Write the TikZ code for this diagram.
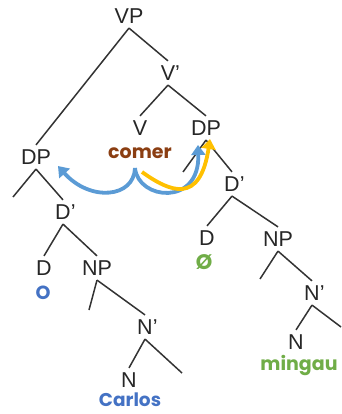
\documentclass[tikz,border=0pt]{standalone}
\usepackage{fontspec}
\setmainfont{Liberation Sans}
\newfontfamily\comicfont{Poppins}
\usetikzlibrary{arrows.meta}
\definecolor{arrblue}{HTML}{5B9BD5}
\definecolor{arryellow}{HTML}{FFC000}
\definecolor{wblue}{HTML}{4472C4}
\definecolor{wgreen}{HTML}{70AD47}
\definecolor{wbrown}{HTML}{8B3E12}
\begin{document}
\begin{tikzpicture}[x=1pt,y=-1pt,
  lab/.style={font=\fontsize{21.5}{24}\selectfont, inner sep=4.5pt, text=black!85},
  word/.style={font=\comicfont\bfseries\fontsize{19}{21}\selectfont, inner sep=1pt},
  br/.style={draw=black!80, line width=1.5pt},
  arr/.style={line width=3.8pt, -{Triangle[width=14pt,length=10pt]}}]
\useasboundingbox (0,0) rectangle (341,414);
% labels
\node[lab] (VP) at (129,16) {VP};
\node[lab] (Vb) at (168,73) {V\rlap{’}};
\node[lab] (V) at (140,128) {V};
\node[lab] (DPo) at (206,128) {DP};
\node[lab] (DPs) at (36,157) {DP};
\node[lab] (Dbr) at (232,184) {D\rlap{’}};
\node[lab] (Dbl) at (63,212) {D\rlap{’}};
\node[lab] (Dr) at (207,238) {D};
\node[lab] (NPr) at (278,239) {NP};
\node[lab] (Dl) at (44,268) {D};
\node[lab] (NPl) at (97,268) {NP};
\node[lab] (Nbr) at (312,293) {N\rlap{’}};
\node[lab] (Nbl) at (145,327) {N\rlap{’}};
\node[lab] (Nr) at (296,342) {N};
\node[lab] (Nl) at (129,380) {N};
% words
\node[word, text=wbrown] (comer) at (140,153) {comer};
\node[word, text=wblue] (o) at (43,293) {O};
\node[word, text=wgreen, font=\comicfont\bfseries\fontsize{21}{23}\selectfont] (zero) at (204,262) {Ø};
\node[word, text=wgreen] (mingau) at (299,365) {mingau};
\node[word, text=wblue, font=\comicfont\bfseries\fontsize{18.5}{20}\selectfont] (carlos) at (130,399.5) {Carlos};
% empty branch ends
\coordinate (eDPs) at (13,197);
\coordinate (eDPo) at (183,172);
\coordinate (eNPl) at (89,310);
\coordinate (eNbl) at (182,373);
\coordinate (eNPr) at (260,279);
\coordinate (eNbr) at (341,327);
% branches
\draw[br] (VP.south) -- (DPs.north);
\draw[br] (VP.south) -- (Vb.north);
\draw[br] (Vb.south) -- (V.north);
\draw[br] (Vb.south) -- (DPo.north);
\draw[br] (DPo.south) -- (eDPo);
\draw[br] (DPo.south) -- (Dbr.north);
\draw[br] (DPs.south) -- (eDPs);
\draw[br] (DPs.south) -- (Dbl.north);
\draw[br] (Dbl.south) -- (Dl.north);
\draw[br] (Dbl.south) -- (NPl.north);
\draw[br] (NPl.south) -- (eNPl);
\draw[br] (NPl.south) -- (Nbl.north);
\draw[br] (Nbl.south) -- (Nl.north);
\draw[br] (Nbl.south) -- (eNbl);
\draw[br] (Dbr.south) -- (Dr.north);
\draw[br] (Dbr.south) -- (NPr.north);
\draw[br] (NPr.south) -- (eNPr);
\draw[br] (NPr.south) -- (Nbr.north);
\draw[br] (Nbr.south) -- (Nr.north);
\draw[br] (Nbr.south) -- (eNbr);
% arrows (comer center is (140,153))
\coordinate (cs) at ([xshift=-5pt,yshift=-15pt]comer.center);
\coordinate (cy) at ([xshift=2pt,yshift=-19pt]comer.center);
\draw[arr, arrblue] (cs) .. controls +(-1,30) and +(32,36) .. ([xshift=22pt,yshift=-9pt]DPs.center);
\draw[arr, arrblue] (cs) .. controls +(3,32) and +(2,62) .. ([xshift=-8pt,yshift=-17pt]DPo.center);
\draw[arr, arryellow] (cy) .. controls +(28,20) and +(-10,66) .. ([xshift=4pt,yshift=-11pt]DPo.center);
\end{tikzpicture}
\end{document}
